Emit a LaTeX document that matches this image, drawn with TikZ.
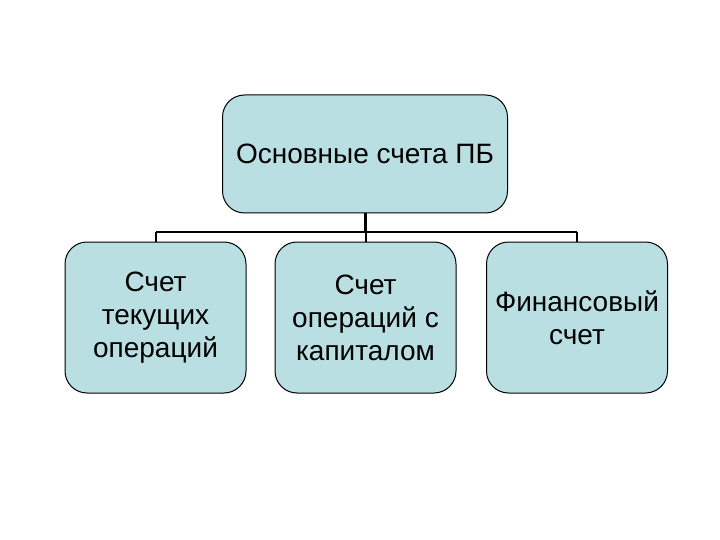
\documentclass[tikz,border=0pt]{standalone}
\usepackage{fontspec}
\setmainfont{Liberation Sans}
\definecolor{boxfill}{HTML}{BADFE2}
\begin{document}
\begin{tikzpicture}[x=1pt,y=-1pt,
  acct/.style={draw=black, line width=1pt, fill=boxfill, rounded corners=22pt,
    align=center, inner sep=0pt, font=\fontsize{28}{33}\selectfont},
  link/.style={draw=black, line width=2pt}]
\useasboundingbox (0,0) rectangle (720,540);
\node[acct, minimum width=285pt, minimum height=118pt] (top) at (365,154) {Основные счета ПБ};
\node[acct, minimum width=181pt, minimum height=151pt] (b1) at (155.5,317.5) {Счет\\текущих\\операций};
\node[acct, minimum width=181pt, minimum height=151pt] (b2) at (365.5,317.5) {Счет\\операций с\\капиталом};
\node[acct, minimum width=181pt, minimum height=151pt] (b3) at (577,317.5) {Финансовый\\счет};
\coordinate (bus) at (366,232);
\draw[link, line width=3pt] (top.south) -- (top.south |- bus);
\draw[link] (b1.north |- bus) -- (b3.north |- bus);
\draw[link] (b1.north |- bus) -- (b1.north);
\draw[link] (b2.north |- bus) -- (b2.north);
\draw[link] (b3.north |- bus) -- (b3.north);
\end{tikzpicture}
\end{document}
